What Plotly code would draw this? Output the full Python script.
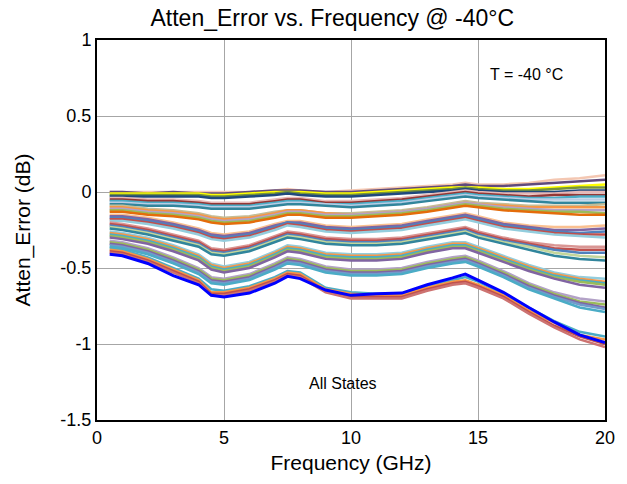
import plotly.graph_objects as go

# Frequency points (GHz)
freq = [0.5, 1, 2, 3, 4, 4.5, 5, 6, 7, 7.5, 8, 9, 10, 11, 12, 13, 14, 14.5, 15, 16, 17, 18, 19, 20]

# Atten_Error (dB) per attenuation state
A1 = [0.00, 0.00, 0.00, 0.00, 0.00, 0.00, 0.00, 0.00, 0.01, 0.02, 0.01, 0.00, 0.01, 0.02, 0.03, 0.04, 0.05, 0.06, 0.05, 0.05, 0.06, 0.08, 0.09, 0.11]
A2 = [0.00, 0.00, -0.01, 0.00, -0.01, -0.01, -0.01, 0.00, 0.01, 0.01, 0.01, 0.00, 0.00, 0.01, 0.02, 0.03, 0.04, 0.05, 0.04, 0.04, 0.05, 0.06, 0.07, 0.08]
A3 = [-0.01, -0.01, -0.01, -0.01, -0.01, -0.02, -0.02, -0.01, 0.00, 0.00, 0.00, -0.01, -0.01, 0.00, 0.01, 0.02, 0.03, 0.03, 0.03, 0.02, 0.02, 0.03, 0.04, 0.05]
A4 = [-0.02, -0.02, -0.02, -0.02, -0.02, -0.03, -0.03, -0.02, -0.01, 0.00, -0.01, -0.02, -0.02, -0.01, 0.00, 0.01, 0.02, 0.03, 0.02, 0.01, 0.01, 0.02, 0.03, 0.03]
A5 = [-0.03, -0.03, -0.03, -0.03, -0.03, -0.04, -0.04, -0.03, -0.02, -0.01, -0.02, -0.03, -0.03, -0.02, -0.01, 0.00, 0.01, 0.02, 0.01, 0.00, 0.00, 0.00, 0.01, 0.01]
B1 = [-0.04, -0.04, -0.05, -0.05, -0.06, -0.07, -0.07, -0.07, -0.05, -0.04, -0.04, -0.06, -0.06, -0.05, -0.04, -0.02, 0.00, 0.01, 0.00, -0.01, -0.01, -0.01, 0.00, 0.00]
B2 = [-0.05, -0.05, -0.06, -0.06, -0.07, -0.08, -0.08, -0.08, -0.06, -0.05, -0.05, -0.07, -0.07, -0.06, -0.05, -0.03, -0.01, 0.00, -0.01, -0.02, -0.03, -0.02, -0.02, -0.02]
B3 = [-0.06, -0.06, -0.07, -0.07, -0.08, -0.09, -0.09, -0.09, -0.07, -0.06, -0.06, -0.08, -0.08, -0.07, -0.06, -0.04, -0.02, -0.01, -0.02, -0.03, -0.04, -0.04, -0.03, -0.03]
B4 = [-0.07, -0.07, -0.08, -0.08, -0.09, -0.10, -0.10, -0.10, -0.08, -0.07, -0.07, -0.08, -0.09, -0.08, -0.07, -0.05, -0.03, -0.02, -0.03, -0.04, -0.05, -0.05, -0.05, -0.05]
B5 = [-0.08, -0.08, -0.09, -0.09, -0.10, -0.11, -0.11, -0.11, -0.09, -0.08, -0.08, -0.09, -0.10, -0.09, -0.08, -0.06, -0.04, -0.03, -0.04, -0.05, -0.06, -0.07, -0.07, -0.07]
C1 = [-0.09, -0.09, -0.11, -0.12, -0.14, -0.16, -0.17, -0.16, -0.13, -0.12, -0.12, -0.14, -0.14, -0.13, -0.12, -0.10, -0.07, -0.06, -0.07, -0.08, -0.09, -0.09, -0.09, -0.08]
C2 = [-0.10, -0.10, -0.12, -0.13, -0.15, -0.17, -0.18, -0.17, -0.14, -0.12, -0.12, -0.14, -0.15, -0.14, -0.13, -0.11, -0.08, -0.07, -0.08, -0.09, -0.10, -0.10, -0.10, -0.10]
C3 = [-0.11, -0.11, -0.13, -0.14, -0.16, -0.18, -0.19, -0.18, -0.15, -0.13, -0.13, -0.15, -0.15, -0.14, -0.13, -0.11, -0.08, -0.07, -0.08, -0.10, -0.11, -0.12, -0.12, -0.12]
C4 = [-0.12, -0.12, -0.14, -0.15, -0.17, -0.19, -0.20, -0.19, -0.16, -0.14, -0.14, -0.16, -0.16, -0.15, -0.14, -0.12, -0.09, -0.08, -0.09, -0.11, -0.12, -0.13, -0.13, -0.14]
C5 = [-0.13, -0.13, -0.15, -0.16, -0.18, -0.20, -0.21, -0.20, -0.17, -0.15, -0.15, -0.17, -0.17, -0.16, -0.15, -0.13, -0.10, -0.09, -0.10, -0.12, -0.13, -0.14, -0.15, -0.15]
D1 = [-0.15, -0.15, -0.17, -0.20, -0.24, -0.27, -0.28, -0.26, -0.21, -0.19, -0.19, -0.22, -0.23, -0.22, -0.21, -0.18, -0.15, -0.14, -0.16, -0.20, -0.22, -0.23, -0.23, -0.22]
D2 = [-0.16, -0.16, -0.18, -0.21, -0.25, -0.28, -0.29, -0.27, -0.22, -0.20, -0.20, -0.23, -0.24, -0.23, -0.22, -0.19, -0.16, -0.15, -0.17, -0.21, -0.23, -0.25, -0.25, -0.24]
D3 = [-0.17, -0.17, -0.19, -0.22, -0.26, -0.29, -0.30, -0.28, -0.23, -0.20, -0.21, -0.24, -0.25, -0.24, -0.23, -0.20, -0.17, -0.16, -0.18, -0.22, -0.24, -0.26, -0.27, -0.26]
D4 = [-0.18, -0.18, -0.20, -0.23, -0.27, -0.30, -0.31, -0.29, -0.24, -0.21, -0.22, -0.25, -0.26, -0.25, -0.24, -0.21, -0.18, -0.17, -0.19, -0.23, -0.25, -0.27, -0.28, -0.28]
D5 = [-0.19, -0.19, -0.21, -0.24, -0.28, -0.31, -0.32, -0.30, -0.25, -0.22, -0.23, -0.26, -0.27, -0.26, -0.25, -0.22, -0.19, -0.18, -0.20, -0.24, -0.26, -0.28, -0.29, -0.30]
E1 = [-0.20, -0.21, -0.24, -0.28, -0.32, -0.37, -0.38, -0.35, -0.29, -0.26, -0.27, -0.30, -0.31, -0.31, -0.30, -0.27, -0.24, -0.23, -0.26, -0.30, -0.33, -0.35, -0.36, -0.36]
E2 = [-0.21, -0.22, -0.25, -0.29, -0.33, -0.38, -0.39, -0.36, -0.30, -0.27, -0.28, -0.31, -0.32, -0.32, -0.31, -0.28, -0.25, -0.24, -0.27, -0.31, -0.34, -0.37, -0.38, -0.38]
E3 = [-0.22, -0.23, -0.26, -0.30, -0.34, -0.39, -0.40, -0.37, -0.31, -0.28, -0.29, -0.32, -0.33, -0.33, -0.32, -0.29, -0.26, -0.25, -0.28, -0.32, -0.35, -0.38, -0.40, -0.40]
E4 = [-0.23, -0.24, -0.27, -0.31, -0.35, -0.40, -0.41, -0.38, -0.32, -0.29, -0.30, -0.33, -0.34, -0.34, -0.33, -0.30, -0.27, -0.26, -0.29, -0.33, -0.36, -0.40, -0.42, -0.43]
E5 = [-0.24, -0.25, -0.28, -0.32, -0.36, -0.41, -0.42, -0.39, -0.33, -0.30, -0.31, -0.34, -0.35, -0.35, -0.34, -0.31, -0.28, -0.27, -0.30, -0.34, -0.38, -0.42, -0.44, -0.45]
F1 = [-0.26, -0.27, -0.30, -0.35, -0.41, -0.47, -0.49, -0.46, -0.39, -0.35, -0.36, -0.40, -0.41, -0.41, -0.40, -0.36, -0.33, -0.33, -0.36, -0.42, -0.48, -0.53, -0.56, -0.57]
F2 = [-0.27, -0.28, -0.31, -0.36, -0.42, -0.48, -0.50, -0.47, -0.40, -0.36, -0.37, -0.41, -0.42, -0.42, -0.41, -0.37, -0.34, -0.34, -0.37, -0.43, -0.49, -0.54, -0.57, -0.59]
F3 = [-0.28, -0.29, -0.32, -0.37, -0.43, -0.49, -0.51, -0.48, -0.41, -0.37, -0.38, -0.42, -0.43, -0.43, -0.42, -0.38, -0.35, -0.35, -0.38, -0.44, -0.50, -0.55, -0.58, -0.60]
F4 = [-0.29, -0.30, -0.33, -0.38, -0.44, -0.50, -0.52, -0.49, -0.42, -0.38, -0.39, -0.43, -0.44, -0.44, -0.43, -0.39, -0.36, -0.36, -0.39, -0.45, -0.51, -0.56, -0.59, -0.61]
F5 = [-0.30, -0.31, -0.34, -0.39, -0.45, -0.51, -0.53, -0.50, -0.43, -0.39, -0.40, -0.44, -0.45, -0.45, -0.44, -0.40, -0.37, -0.37, -0.40, -0.46, -0.52, -0.57, -0.61, -0.63]
G1 = [-0.32, -0.33, -0.37, -0.43, -0.50, -0.56, -0.57, -0.54, -0.47, -0.43, -0.44, -0.49, -0.51, -0.51, -0.50, -0.46, -0.43, -0.42, -0.45, -0.52, -0.60, -0.66, -0.70, -0.72]
G2 = [-0.33, -0.34, -0.38, -0.44, -0.51, -0.57, -0.58, -0.55, -0.48, -0.44, -0.45, -0.50, -0.52, -0.52, -0.51, -0.47, -0.44, -0.43, -0.46, -0.53, -0.61, -0.67, -0.72, -0.74]
G3 = [-0.34, -0.35, -0.39, -0.45, -0.52, -0.58, -0.59, -0.56, -0.49, -0.45, -0.46, -0.51, -0.53, -0.53, -0.52, -0.48, -0.45, -0.44, -0.47, -0.54, -0.62, -0.68, -0.73, -0.76]
G4 = [-0.35, -0.36, -0.40, -0.46, -0.53, -0.59, -0.60, -0.57, -0.50, -0.46, -0.47, -0.52, -0.54, -0.54, -0.53, -0.49, -0.46, -0.45, -0.48, -0.55, -0.63, -0.69, -0.74, -0.77]
G5 = [-0.36, -0.37, -0.41, -0.47, -0.54, -0.60, -0.61, -0.58, -0.51, -0.47, -0.48, -0.53, -0.55, -0.55, -0.54, -0.50, -0.47, -0.46, -0.49, -0.56, -0.64, -0.70, -0.76, -0.79]
H1 = [-0.37, -0.38, -0.43, -0.50, -0.57, -0.64, -0.65, -0.62, -0.56, -0.52, -0.53, -0.63, -0.66, -0.67, -0.67, -0.62, -0.58, -0.56, -0.59, -0.67, -0.76, -0.85, -0.92, -0.95]
H2 = [-0.38, -0.39, -0.44, -0.51, -0.58, -0.66, -0.66, -0.63, -0.57, -0.53, -0.54, -0.64, -0.67, -0.68, -0.68, -0.63, -0.59, -0.58, -0.61, -0.68, -0.78, -0.86, -0.94, -0.97]
H3 = [-0.39, -0.40, -0.45, -0.52, -0.59, -0.67, -0.67, -0.64, -0.58, -0.54, -0.55, -0.65, -0.69, -0.69, -0.69, -0.64, -0.60, -0.59, -0.62, -0.69, -0.79, -0.88, -0.95, -1.00]
H4 = [-0.40, -0.41, -0.46, -0.53, -0.60, -0.68, -0.68, -0.65, -0.59, -0.55, -0.56, -0.66, -0.70, -0.70, -0.70, -0.65, -0.61, -0.60, -0.63, -0.70, -0.80, -0.89, -0.97, -1.02]
WORST = [-0.41, -0.42, -0.47, -0.55, -0.61, -0.68, -0.69, -0.665, -0.60, -0.555, -0.57, -0.645, -0.68, -0.67, -0.665, -0.61, -0.565, -0.54, -0.58, -0.66, -0.76, -0.855, -0.94, -0.99]

states = [A1, A2, A3, A4, A5, B1, B2, B3, B4, B5, C1, C2, C3, C4, C5,
          D1, D2, D3, D4, D5, E1, E2, E3, E4, E5, F1, F2, F3, F4, F5,
          G1, G2, G3, G4, G5, H1, H2, H3, H4]

colors = ['#F4C7B2', '#604A7B', '#FFFF00', '#77933C', '#1F497D',
          '#E6B9B8', '#953735', '#4BACC6', '#B9CDE5', '#31859C',
          '#C4BD97', '#F79646', '#B3A2C7', '#9BBB59', '#E46C0A',
          '#FAC090', '#8064A2', '#4F81BD', '#C0504D', '#93CDDD',
          '#D99694', '#C0504D', '#4F81BD', '#C3D69B', '#31859C',
          '#93CDDD', '#F79646', '#4BACC6', '#9BBB59', '#8064A2',
          '#B3A2C7', '#9BBB59', '#8064A2', '#729ACA', '#4BACC6',
          '#4BACC6', '#F79646', '#C0504D', '#CD7371']

fig = go.Figure()
for vals, col in zip(states, colors):
    fig.add_trace(go.Scatter(x=freq, y=vals, mode='lines',
                             line=dict(color=col, width=2.5), showlegend=False,
                             hoverinfo='skip'))
fig.add_trace(go.Scatter(x=freq, y=WORST, mode='lines',
                         line=dict(color='#0000FF', width=3), showlegend=False))

font_family = 'Liberation Sans, Arial, sans-serif'
fig.update_layout(
    width=627, height=484,
    margin=dict(l=97, r=20, t=40, b=64),
    paper_bgcolor='white', plot_bgcolor='white',
    font=dict(family=font_family, color='black', size=18),
    title=dict(text='Atten_Error vs. Frequency @ -40°C', x=0.53, xanchor='center',
               y=0.963, yanchor='middle', font=dict(size=23)),
    xaxis=dict(range=[0, 20], tickvals=[0, 5, 10, 15, 20], showgrid=True,
               gridcolor='#A6A6A6', gridwidth=1, zeroline=False,
               showline=True, linecolor='black', linewidth=2, mirror=True,
               ticks='', tickfont=dict(size=18),
               title=dict(text='Frequency (GHz)', font=dict(size=21), standoff=9)),
    yaxis=dict(range=[-1.5, 1], tickvals=[1, 0.5, 0, -0.5, -1, -1.5],
               ticktext=['1', '0.5', '0', '-0.5', '-1', '-1.5'], showgrid=True,
               gridcolor='#A6A6A6', gridwidth=1, zeroline=False,
               showline=True, linecolor='black', linewidth=2, mirror=True,
               ticks='', tickfont=dict(size=18),
               title=dict(text='Atten_Error (dB)', font=dict(size=21), standoff=24)),
    annotations=[
        dict(text='T = -40 °C', x=16.9, y=0.77, xref='x', yref='y',
             showarrow=False, font=dict(size=16)),
        dict(text='All States', x=9.7, y=-1.26, xref='x', yref='y',
             showarrow=False, font=dict(size=16)),
    ],
)

fig.write_html('out.html')
